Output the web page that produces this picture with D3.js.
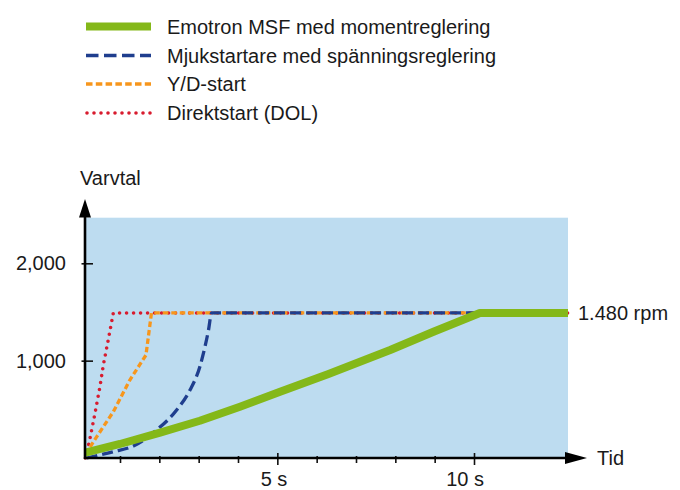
<!DOCTYPE html>
<html><head><meta charset="utf-8">
<script src="https://cdn.jsdelivr.net/npm/d3@7"></script>
<style>
html,body{margin:0;padding:0;background:#fff;}
text{font-family:"Liberation Sans",Arial,Helvetica,sans-serif;fill:#1a1a1a;}
</style></head>
<body><svg id="c" width="680" height="490"></svg>
<script>
// ---- data ----
const seriesNames = ["Emotron MSF med momentreglering","Mjukstartare med spänningsreglering","Y/D-start","Direktstart (DOL)"];
const emotronT = [0.12, 1.0, 2.02, 3.03, 4.05, 5.07, 6.30, 7.87, 8.97, 10.15, 12.39];
const emotronV = [55, 144, 260, 383, 527, 681, 862, 1109, 1297, 1490, 1490];
const softT = [0.15, 0.83, 1.34, 1.93, 2.44, 2.78, 3.03, 3.12, 3.25, 3.33, 12.39];
const softV = [0, 65, 123, 287, 493, 698, 937, 1074, 1314, 1490, 1490];
const ydT = [0.12, 0.41, 0.83, 1.25, 1.55, 1.66, 1.80, 12.39];
const ydV = [40, 219, 475, 801, 989, 1057, 1490, 1490];
const dolT = [0.12, 0.22, 0.364, 0.49, 0.576, 0.70, 0.83, 12.39];
const dolV = [0, 167, 459, 732, 955, 1211, 1490, 1490];
const xTicks = [1,2,3,4,5,6,7,8,9,10];
const xMajor = [5,10];
const xLabels = ["5 s","10 s"];
const yTicks = [1000,2000];
const yLabels = ["1,000","2,000"];
const endLabel = "1.480 rpm";
const endValue = 1490;

(function(){
const svg = d3.select("#c");
const x = d3.scaleLinear().domain([0,10]).range([80.67,474]);
const y = d3.scaleLinear().domain([0,2000]).range([458,263.3]);
const pLeft = 85, pRight = 568, pTop = 217.7, pBottom = 458;

svg.append("rect").attr("x",pLeft).attr("y",pTop).attr("width",pRight-pLeft).attr("height",pBottom-pTop).attr("fill","#bddcf0");

const styles = [
  {color:"#84b819", width:8, dash:null, cap:"butt"},
  {color:"#1f3e8e", width:3.3, dash:"11,5", cap:"butt"},
  {color:"#f7961c", width:3.3, dash:"5.5,3", cap:"butt"},
  {color:"#d81b2e", width:3.6, dash:"0,7", cap:"round"}
];
const series = [
  {t:emotronT, v:emotronV, curve:d3.curveLinear},
  {t:softT, v:softV, curve:d3.curveMonotoneX},
  {t:ydT, v:ydV, curve:d3.curveLinear},
  {t:dolT, v:dolV, curve:d3.curveLinear}
];
const line = d3.line().x(d=>x(d[0])).y(d=>y(d[1]));
[3,2,1,0].forEach(i=>{
  const s = series[i], st = styles[i];
  const pts = s.t.map((t,k)=>[t,s.v[k]]);
  svg.append("path").attr("d", line.curve(s.curve)(pts))
    .attr("fill","none").attr("stroke",st.color).attr("stroke-width",st.width)
    .attr("stroke-dasharray",st.dash).attr("stroke-linecap",st.cap).attr("stroke-linejoin","round");
});

// x axis
const xAxis = d3.axisBottom(x).tickValues(xTicks).tickSize(5).tickFormat("");
const gx = svg.append("g").attr("transform",`translate(0,${pBottom})`).call(xAxis);
gx.select(".domain").remove();
gx.selectAll(".tick line").attr("stroke","#111").attr("stroke-width",1.6)
  .attr("y1",d=>xMajor.includes(d)?-5:-2).attr("y2",d=>xMajor.includes(d)?7:5);
xMajor.forEach((v,i)=>{
  svg.append("text").attr("x",x(v)+10).attr("y",486).attr("text-anchor","end")
    .attr("font-size",20).text(xLabels[i]);
});
svg.append("line").attr("x1",pLeft-1).attr("x2",566).attr("y1",pBottom).attr("y2",pBottom).attr("stroke","#000").attr("stroke-width",2.6);
svg.append("path").attr("d",`M565,${pBottom-6}L587,${pBottom}L565,${pBottom+6}Z`).attr("fill","#000");
svg.append("text").attr("x",597).attr("y",pBottom).attr("dy","0.35em").attr("font-size",20).text("Tid");

// y axis
const yAxis = d3.axisLeft(y).tickValues(yTicks).tickSize(3).tickFormat((d,i)=>yLabels[i]);
const gy = svg.append("g").attr("transform",`translate(${pLeft},0)`).call(yAxis);
gy.select(".domain").remove();
gy.selectAll(".tick line").attr("stroke","#111").attr("stroke-width",1.6).attr("x1",-3.5).attr("x2",8);
gy.selectAll(".tick text").attr("x",-19).attr("font-size",20).attr("font-family","Liberation Sans,Arial,sans-serif").attr("fill","#1a1a1a");
svg.append("line").attr("x1",pLeft).attr("x2",pLeft).attr("y1",pBottom+1).attr("y2",216).attr("stroke","#000").attr("stroke-width",2.6);
svg.append("path").attr("d",`M${pLeft-6},217.5L${pLeft},199L${pLeft+6},217.5Z`).attr("fill","#000");
svg.append("text").attr("x",80).attr("y",185).attr("font-size",20).text("Varvtal");

svg.append("text").attr("x",578).attr("y",y(endValue)).attr("dy","0.35em").attr("font-size",20).text(endLabel);

// legend
const legY = [26.5, 55.5, 84, 113];
const legDash = [null, "12.5,5.5", "6.5,3.3", "0,7"];
seriesNames.forEach((n,i)=>{
  const st = styles[i];
  svg.append("line").attr("x1",i===3?87:86).attr("x2",151).attr("y1",legY[i]).attr("y2",legY[i])
    .attr("stroke",st.color).attr("stroke-width",st.width).attr("stroke-dasharray",legDash[i]).attr("stroke-linecap",st.cap);
  svg.append("text").attr("x",167).attr("y",legY[i]).attr("dy","0.35em").attr("font-size",20).text(n);
});
})();
</script></body></html>
